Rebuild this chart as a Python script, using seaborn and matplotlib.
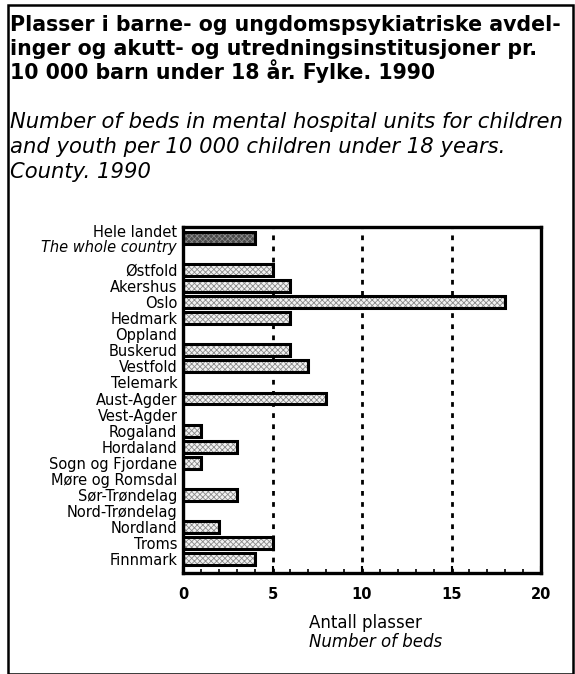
import numpy as np
import pandas as pd
import matplotlib
matplotlib.use("Agg")
import matplotlib.pyplot as plt
import matplotlib.patches as mpatches
import matplotlib.transforms as mtransforms
import seaborn as sns

# Data
counties = ["Hele landet", " ", "Østfold", "Akershus", "Oslo", "Hedmark", "Oppland",
            "Buskerud", "Vestfold", "Telemark", "Aust-Agder", "Vest-Agder", "Rogaland",
            "Hordaland", "Sogn og Fjordane", "Møre og Romsdal", "Sør-Trøndelag",
            "Nord-Trøndelag", "Nordland", "Troms", "Finnmark"]
beds = [4, np.nan, 5, 6, 18, 6, 0, 6, 7, 0, 8, 0, 1, 3, 1, 0, 3, 0, 2, 5, 4]
tick_labels = ["", ""] + counties[2:]
x_ticks = [0, 5, 10, 15, 20]

title_lines = ["Plasser i barne- og ungdomspsykiatriske avdel-",
               "inger og akutt- og utredningsinstitusjoner pr.",
               "10 000 barn under 18 år. Fylke. 1990"]
subtitle_lines = ["Number of beds in mental hospital units for children",
                  "and youth per 10 000 children under 18 years.",
                  "County. 1990"]

sns.set_theme(style="white")
plt.rcParams["font.family"] = ["DejaVu Sans"]
plt.rcParams["hatch.linewidth"] = 0.6
for key in ["text.color", "axes.labelcolor", "xtick.color", "ytick.color"]:
    plt.rcParams[key] = "black"

W, H = 575, 674
fig = plt.figure(figsize=(W / 100, H / 100), dpi=100)
ax = fig.add_axes([183 / W, 1 - 573 / H, 358 / W, 346 / H])

df = pd.DataFrame({"county": counties, "beds": beds})
df["group"] = ["whole" if c == "Hele landet" else "county" for c in counties]

# Fylte søyler med mønster
sns.barplot(data=df, y="county", x="beds", hue="group", order=counties,
            palette={"whole": "#4a4a4a", "county": "#f2f2f2"},
            width=0.74, edgecolor="#8a8a8a", linewidth=0, hatch="xxxxxx",
            legend=False, ax=ax, orient="h", dodge=False)
# Svarte kanter
sns.barplot(data=df, y="county", x="beds", order=counties, fill=False,
            color="black", width=0.74, linewidth=2.2, ax=ax, orient="h")

for v in [5, 10, 15]:
    ax.axvline(v, color="black", linestyle=(0, (1.7, 2.3)), linewidth=2.0, zorder=0)

ax.set_xlim(0, 20)
ax.set_ylim(20.875, -0.69)
ax.set_xticks(x_ticks)
ax.set_xticks(range(0, 21), minor=True)
ax.set_yticks(range(len(counties)))
ax.set_yticklabels(tick_labels, fontsize=10.5)
ax.tick_params(axis="y", length=0, pad=4)
ax.tick_params(axis="x", which="both", direction="in", bottom=True, labelsize=10.5, pad=10)
ax.tick_params(axis="x", which="major", length=5, width=1.5)
ax.tick_params(axis="x", which="minor", length=3, width=1.2)
for lab in ax.get_xticklabels():
    lab.set_fontweight("bold")
ax.set_xlabel("")
ax.set_ylabel("")
for s in ax.spines.values():
    s.set_visible(True)
    s.set_color("black")
    s.set_linewidth(2.4)

# Hele landet / The whole country
trans = mtransforms.blended_transform_factory(ax.transAxes, ax.transData)
ax.text(-0.017, -0.37, "Hele landet", transform=trans, ha="right", va="center", fontsize=10.5)
ax.text(-0.017, 0.6, "The whole country", transform=trans, ha="right", va="center",
        fontsize=10.5, style="italic")

# Aksetittel
fig.text(309 / W, 1 - 623 / H, "Antall plasser", ha="left", va="center", fontsize=12)
fig.text(309 / W, 1 - 642 / H, "Number of beds", ha="left", va="center", fontsize=12,
         style="italic")

# Overskrift
for i, line in enumerate(title_lines):
    fig.text(10 / W, 1 - (31 + 24 * i) / H, line, ha="left", va="baseline",
             fontsize=14.8, fontweight="bold")
for i, line in enumerate(subtitle_lines):
    fig.text(10 / W, 1 - (128 + 25 * i) / H, line, ha="left", va="baseline",
             fontsize=15.2, style="italic")

# Ramme
fig.patches.append(mpatches.Rectangle((8 / W, 0.5 / H), 565 / W, 668.5 / H, fill=False,
                                      edgecolor="black", linewidth=1.8,
                                      transform=fig.transFigure, figure=fig))

fig.savefig("out.png", dpi=100)
